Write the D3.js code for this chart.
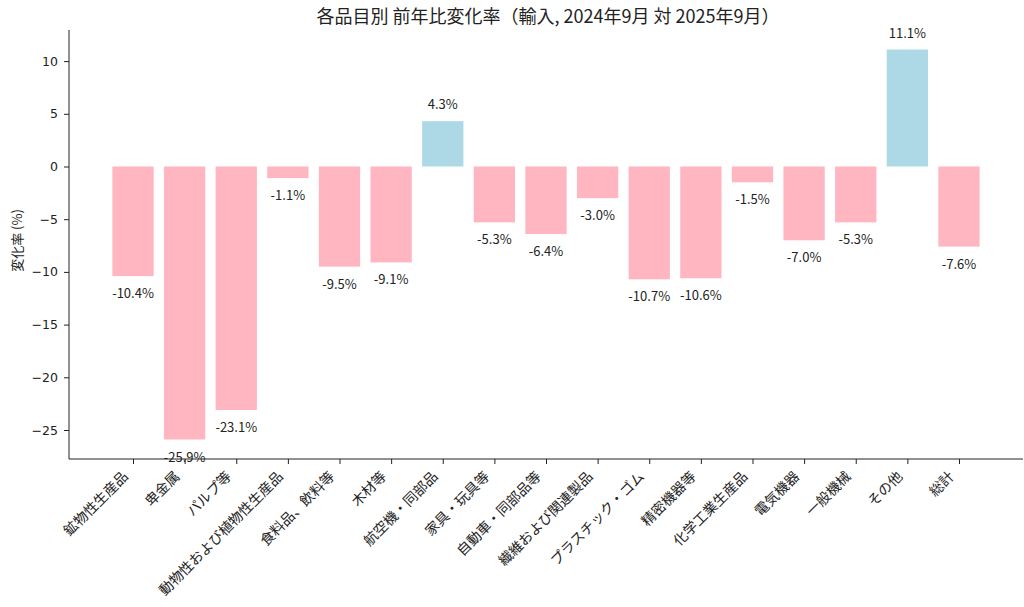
<!DOCTYPE html>
<html>
<head>
<meta charset="utf-8">
<script src="https://cdn.jsdelivr.net/npm/d3@7"></script>
<style>
  body { margin: 0; background: #fff; }
  svg text { font-family: "Noto Sans CJK JP", "Noto Sans", sans-serif; }
</style>
</head>
<body>
<svg width="1024" height="607"></svg>
<script>
const categories = [
  "鉱物性生産品", "卑金属", "パルプ等", "動物性および植物性生産品", "食料品、飲料等",
  "木材等", "航空機・同部品", "家具・玩具等", "自動車・同部品等", "繊維および関連製品",
  "プラスチック・ゴム", "精密機器等", "化学工業生産品", "電気機器", "一般機械", "その他", "総計"
];
const changes = [-10.4, -25.9, -23.1, -1.1, -9.5, -9.1, 4.3, -5.3, -6.4, -3.0, -10.7, -10.6, -1.5, -7.0, -5.3, 11.1, -7.6];
const yTicks = [-25, -20, -15, -10, -5, 0, 5, 10];

const svg = d3.select("svg");
const mLeft = 69, mRight = 1023, mTop = 30, mBottom = 459;

// x in index units, with matplotlib-like margins
const x = d3.scaleLinear().domain([-1.24, 17.24]).range([mLeft, mRight]);
const y = d3.scaleLinear().domain([-27.75, 12.95]).range([mBottom, mTop]);
const barW = x(0.8) - x(0);

// bars
svg.selectAll("rect.bar")
  .data(changes)
  .enter()
  .append("rect")
  .attr("class", "bar")
  .attr("x", (d, i) => x(i) - barW / 2)
  .attr("width", barW)
  .attr("y", d => y(Math.max(0, d)))
  .attr("height", d => Math.abs(y(d) - y(0)))
  .attr("fill", d => d >= 0 ? "#add8e6" : "#ffb6c1");

// value labels
svg.selectAll("text.val")
  .data(changes)
  .enter()
  .append("text")
  .attr("class", "val")
  .attr("x", (d, i) => x(i))
  .attr("y", d => d >= 0 ? y(d) - 12 : y(d) + 22)
  .attr("text-anchor", "middle")
  .attr("font-size", 13)
  .attr("fill", "#222")
  .text(d => d.toFixed(1) + "%");

// y axis
const yAxis = svg.append("g")
  .attr("transform", `translate(${mLeft},0)`)
  .call(d3.axisLeft(y).tickValues(yTicks).tickSize(5).tickPadding(6)
    .tickFormat(d => d < 0 ? "\u2212" + Math.abs(d) : d));
yAxis.selectAll("text")
  .style("font-family", "'DejaVu Sans', sans-serif")
  .attr("font-size", 12.5)
  .attr("fill", "#222");
yAxis.select(".domain").attr("d", `M0,${mTop}V${mBottom}`).attr("stroke", "#222");
yAxis.selectAll(".tick line").attr("stroke", "#222");

// x axis
const xAxis = svg.append("g")
  .attr("transform", `translate(0,${mBottom})`)
  .call(d3.axisBottom(x).tickValues(d3.range(categories.length)).tickSize(5)
    .tickFormat(i => categories[i]));
xAxis.select(".domain").attr("d", `M${mLeft},0H${mRight}`).attr("stroke", "#222");
xAxis.selectAll(".tick line").attr("stroke", "#222");
xAxis.selectAll("text")
  .attr("font-size", 14)
  .attr("fill", "#222")
  .attr("text-anchor", "end")
  .attr("dy", "0.35em")
  .attr("transform", "translate(-8,15) rotate(-45)")
  .attr("y", 0)
  .attr("x", 0);

// y label
svg.append("text")
  .attr("transform", `translate(22,${(mTop + mBottom) / 2 - 4}) rotate(-90)`)
  .attr("text-anchor", "middle")
  .attr("font-size", 13)
  .attr("fill", "#222")
  .text("変化率 (%)");

// title
svg.append("text")
  .attr("x", 548)
  .attr("y", 23)
  .attr("text-anchor", "middle")
  .attr("font-size", 18)
  .attr("fill", "#222")
  .text("各品目別 前年比変化率（輸入, 2024年9月 対 2025年9月）");
</script>
</body>
</html>
